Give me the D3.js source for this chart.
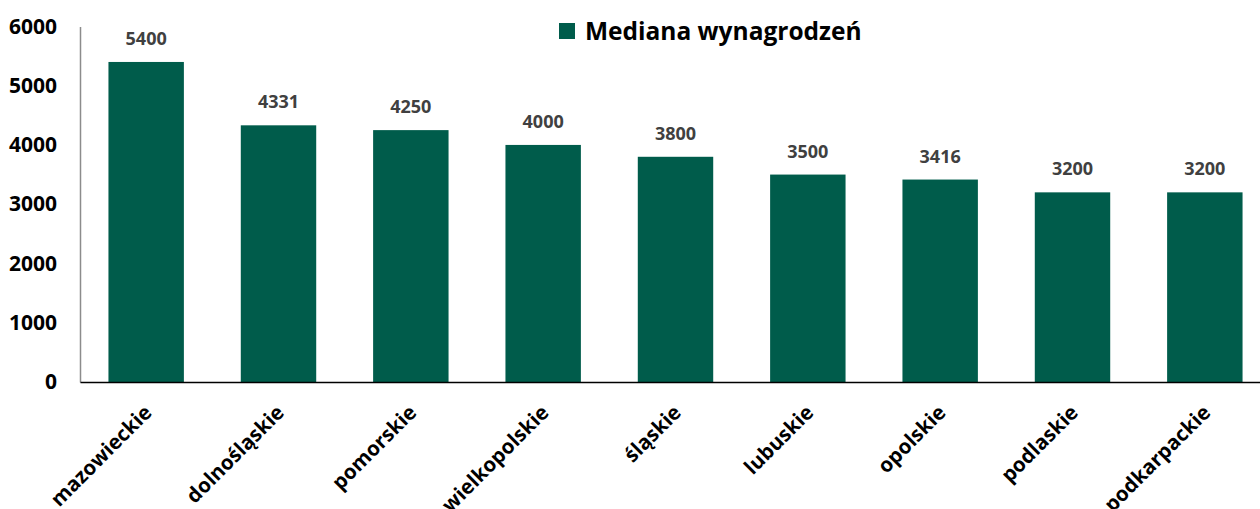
<!DOCTYPE html>
<html lang="pl">
<head>
<meta charset="utf-8">
<title>Mediana wynagrodzeń</title>
<script src="https://cdn.jsdelivr.net/npm/d3@7"></script>
<style>
  body { margin: 0; background: #fff; }
  svg text { font-family: "Open Sans", "Liberation Sans", sans-serif; font-weight: bold; }
</style>
</head>
<body>
<svg id="chart" width="1260" height="509"></svg>
<script>
// data
var regions = ["mazowieckie", "dolnośląskie", "pomorskie", "wielkopolskie", "śląskie",
               "lubuskie", "opolskie", "podlaskie", "podkarpackie"];
var medians = [5400, 4331, 4250, 4000, 3800, 3500, 3416, 3200, 3200];
var yTicks = [0, 1000, 2000, 3000, 4000, 5000, 6000];
var seriesName = "Mediana wynagrodzeń";

var barColor = "#005c4b";

var svg = d3.select("#chart");

// plot runs off the right edge a bit, like the original
var x = d3.scaleBand()
  .domain(regions)
  .range([80, 1271])
  .paddingInner(0.43)
  .paddingOuter(0.215);

var y = d3.scaleLinear()
  .domain([0, 6000])
  .range([382, 26.4]);

// y axis labels
var yAxis = svg.append("g")
  .attr("transform", "translate(80,0)")
  .call(d3.axisLeft(y).tickValues(yTicks).tickSize(0).tickPadding(23).tickFormat(d3.format("d")));
yAxis.select(".domain").attr("stroke", "#8c8c8c").attr("stroke-width", 1.5);
yAxis.selectAll("text")
  .attr("font-size", 21)
  .attr("fill", "#000");

// bars
svg.append("g").selectAll("rect")
  .data(medians)
  .join("rect")
  .attr("x", function(d, i){ return x(regions[i]); })
  .attr("y", function(d){ return y(d); })
  .attr("width", x.bandwidth())
  .attr("height", function(d){ return y(0) - y(d); })
  .attr("fill", barColor);

// value labels above bars
svg.append("g").selectAll("text")
  .data(medians)
  .join("text")
  .attr("x", function(d, i){ return x(regions[i]) + x.bandwidth()/2; })
  .attr("y", function(d){ return y(d) - 17; })
  .attr("text-anchor", "middle")
  .attr("font-size", 18)
  .attr("fill", "#404040")
  .text(function(d){ return d; });

// x axis
var xAxis = svg.append("g")
  .attr("transform", "translate(0,382)")
  .call(d3.axisBottom(x).tickSize(0).tickPadding(0));
xAxis.select(".domain").attr("stroke", "#000").attr("stroke-width", 1.5);
xAxis.selectAll("text")
  .attr("font-size", 20.5)
  .attr("fill", "#000")
  .attr("text-anchor", "end")
  .attr("y", 0)
  .attr("dy", "0.75em")
  .attr("transform", "translate(-4,21) rotate(-45)");

// legend
var legend = svg.append("g").attr("transform", "translate(559,23)");
legend.append("rect")
  .attr("width", 16)
  .attr("height", 16)
  .attr("fill", barColor);
legend.append("text")
  .attr("x", 26)
  .attr("y", 8)
  .attr("dy", "0.36em")
  .attr("font-size", 24.5)
  .attr("fill", "#000")
  .text(seriesName);
</script>
</body>
</html>
